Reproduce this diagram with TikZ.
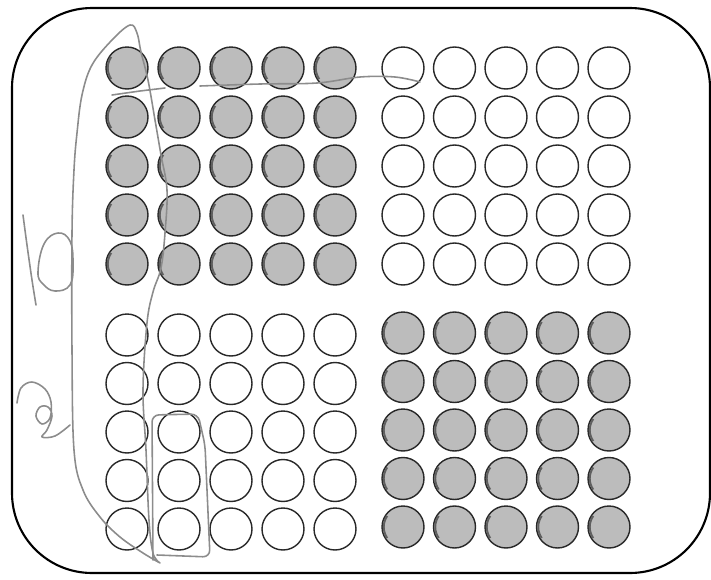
\documentclass[tikz,border=0pt]{standalone}
\usepackage{xcolor}
\usepackage{tikz}
\usetikzlibrary{positioning}
\definecolor{wellgrey}{RGB}{188, 188, 188}
\definecolor{welledge}{RGB}{40, 40, 40}
\definecolor{wellshade}{RGB}{95, 95, 95}
\definecolor{pencil}{RGB}{140, 140, 140}

\begin{document}
\begin{tikzpicture}[
    x = 0.02cm, y = -0.02cm,
    plate/.style = {
        draw=black, line width=1.2pt,
        rounded corners=1.6cm
    },
    emptywell/.style = {
        circle, draw=welledge, fill=white,
        line width=0.8pt, inner sep=0pt,
        minimum size=0.84cm
    },
    fullwell/.style = {emptywell, fill=wellgrey},
    wellshadow/.style = {draw=wellshade, line width=1.1pt},
    pencilmark/.style = {
        draw=pencil, line width=0.9pt,
        line cap=round, line join=round
    },
]

\useasboundingbox (0,0) rectangle (711,579);

% Plate outline
\draw[plate] (12,8) rectangle (710,573);

% Wells: four blocks of 5 x 5
\foreach \r in {0,...,4} {
  \foreach \c in {0,...,4} {
    \node[fullwell]  (tl-\r-\c) at ({127+52*\c},{68+49*\r})     {};
    \node[emptywell] (tr-\r-\c) at ({403+51.5*\c},{68+49*\r})   {};
    \node[emptywell] (bl-\r-\c) at ({127+52*\c},{335+48.5*\r})  {};
    \node[fullwell]  (br-\r-\c) at ({403+51.5*\c},{333+48.5*\r}) {};
    % darker rim on the left of the filled wells
    \draw[wellshadow] (tl-\r-\c.center) ++(145:0.385cm) arc[start angle=145, end angle=215, radius=0.385cm];
    \draw[wellshadow] (br-\r-\c.center) ++(145:0.385cm) arc[start angle=145, end angle=215, radius=0.385cm];
  }
}

% Pencil: long loop round the first column
\draw[pencilmark] plot[smooth, tension=0.6] coordinates {
    (160,563) (143,553) (120,537) (100,517) (83,490) (74,450) (72,350)
    (72,233) (74,170) (77,133) (82,95) (92,65) (112,40) (130,25)
    (137,33) (141,52) (148,80) (155,120) (161,155) (167,190) (165,233)
    (161,268) (153,292) (147,323) (143,390) (146,450) (149,520)
    (153,553) (160,563)};

% Pencil: short cross stroke
\draw[pencilmark] (112,95) -- (140,91) -- (165,88);

% Pencil: line along the top row
\draw[pencilmark] plot[smooth, tension=0.6] coordinates {
    (200,86) (260,84) (317,83) (360,77) (395,77) (420,82)};

% Pencil: box round the second column
\draw[pencilmark, rounded corners=4pt]
    (153,560) -- (152,415) -- (198,414) -- (205,445) -- (210,557) -- (157,555);

% Pencil: loop at the left (upper)
\draw[pencilmark] plot[smooth, tension=0.6] coordinates {
    (23,215) (27,245) (32,280) (36,305)};
\draw[pencilmark] plot[smooth cycle, tension=0.7] coordinates {
    (38,272) (44,244) (58,233) (70,241) (73,263) (70,285) (55,291) (43,284)};

% Pencil: loop at the left (lower)
\draw[pencilmark] plot[smooth, tension=0.6] coordinates {
    (17,403) (21,388) (32,382) (45,389) (51,402) (50,418) (42,424)
    (36,416) (40,407) (48,407) (52,416) (47,430) (42,437) (55,436) (70,425)};

\end{tikzpicture}
\end{document}
